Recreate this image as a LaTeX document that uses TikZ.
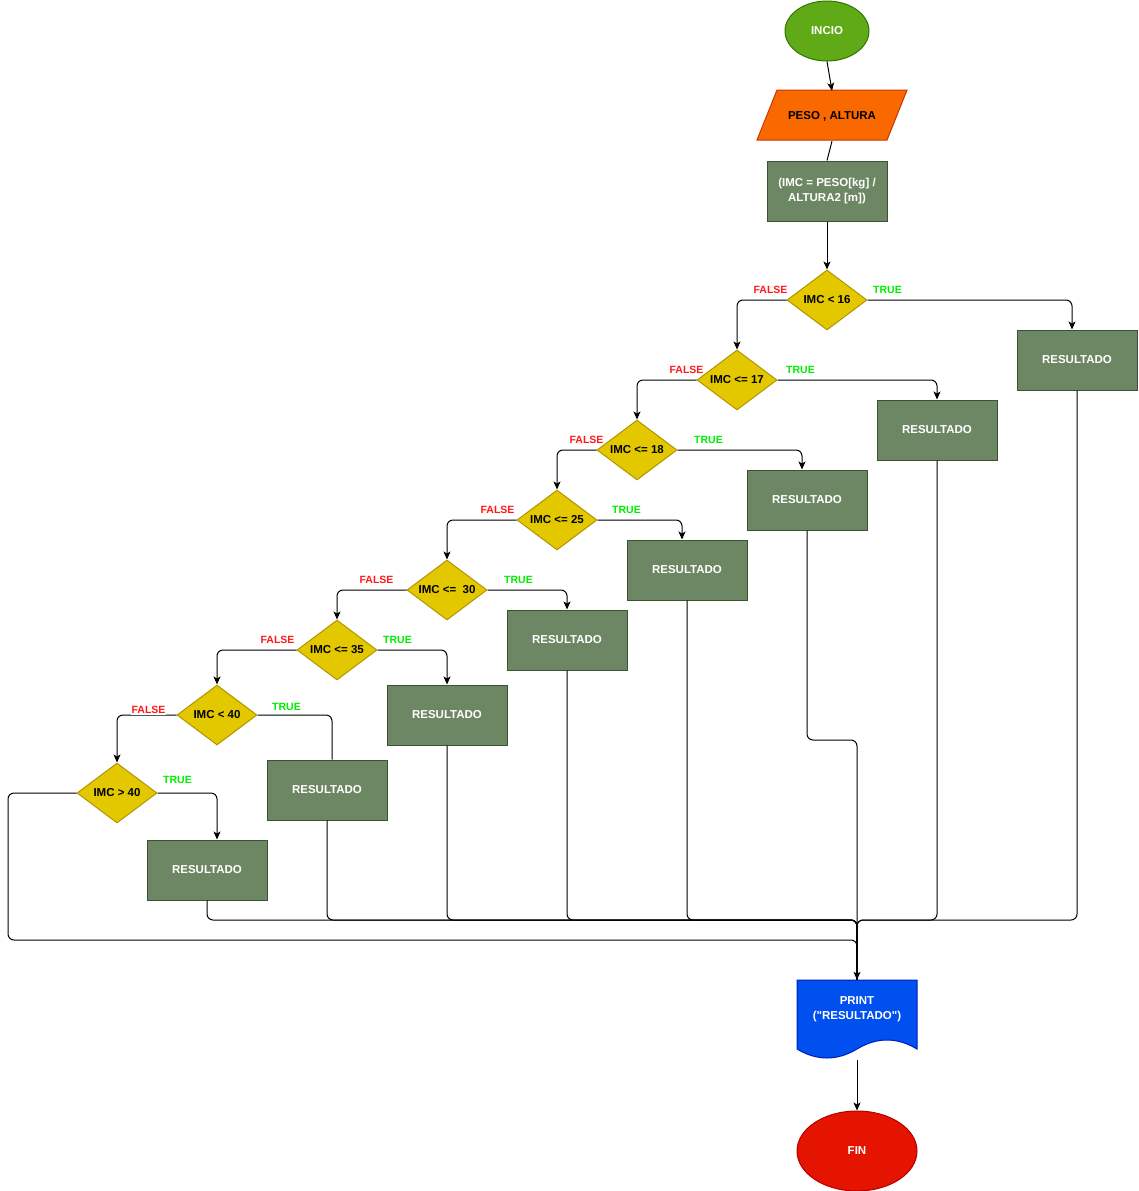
\documentclass[tikz,border=0pt]{standalone}
\usepackage{fontspec}
\setmainfont{Liberation Sans}[Ligatures=TeXOff]
\usetikzlibrary{shapes.geometric,arrows.meta,calc}
\definecolor{cgreen}{HTML}{60A917}\definecolor{cgreenD}{HTML}{2D7600}
\definecolor{corange}{HTML}{FA6800}\definecolor{corangeD}{HTML}{C73500}
\definecolor{crect}{HTML}{6D8764}\definecolor{crectD}{HTML}{3A5431}
\definecolor{cdia}{HTML}{E3C800}\definecolor{cdiaD}{HTML}{B09500}
\definecolor{cblue}{HTML}{0050EF}\definecolor{cblueD}{HTML}{001DBC}
\definecolor{cred}{HTML}{E51400}\definecolor{credD}{HTML}{B20000}
\definecolor{ltrue}{HTML}{00EE00}\definecolor{lfalse}{HTML}{FF1A1A}
\begin{document}
\begin{tikzpicture}[x=1pt,y=-1pt,
  mainfont/.style={font=\fontsize{11.5}{15}\selectfont\bfseries},
  resbox/.style={rectangle,draw=crectD,fill=crect,line width=1pt,minimum width=120pt,minimum height=60pt,inner sep=0pt,text=white,mainfont,align=center},
  dec/.style={diamond,draw=cdiaD,fill=cdia,line width=1pt,minimum width=80pt,minimum height=60pt,inner sep=0pt,aspect=1.333,mainfont},
  termnode/.style={ellipse,line width=1pt,inner sep=0pt,text=white,mainfont},
  lt/.style={font=\fontsize{10.5}{12}\selectfont\bfseries,text=ltrue,inner sep=0pt},
  lf/.style={font=\fontsize{10.5}{12}\selectfont\bfseries,text=lfalse,inner sep=0pt},
  conn/.style={line width=1pt,rounded corners=6pt},
  arr/.style={conn,-{Stealth[length=8pt,width=7pt,inset=2pt]}}]
\useasboundingbox (0,0) rectangle (1138,1191);

% start
\node[termnode,fill=cgreen,draw=cgreenD,minimum width=84pt,minimum height=60pt] (start) at (827,31) {INCIO};
% input
\draw[fill=corange,draw=corangeD,line width=1pt] (777,90) -- (907,90) -- (887,140) -- (757,140) -- cycle;
\node[mainfont,minimum height=50pt,inner sep=0pt] (pa) at (832,116) {PESO , ALTURA};
% process
\node[resbox] (calc) at (827,191) {(IMC = PESO[kg] /\\ALTURA2 [m])};

% decisions
\node[dec] (d1) at (827,300) {IMC < 16};
\node[dec] (d2) at (737,380) {IMC <= 17};
\node[dec] (d3) at (637,450) {IMC <= 18};
\node[dec] (d4) at (557,520) {IMC <= 25};
\node[dec] (d5) at (447,590) {IMC <=~ 30};
\node[dec] (d6) at (337,650) {IMC <= 35};
\node[dec] (d7) at (217,715) {IMC < 40};
\node[dec] (d8) at (117,793) {IMC > 40};

% results
\node[resbox] (r1) at (1077,360) {RESULTADO};
\node[resbox] (r2) at (937,430) {RESULTADO};
\node[resbox] (r3) at (807,500) {RESULTADO};
\node[resbox] (r4) at (687,570) {RESULTADO};
\node[resbox] (r5) at (567,640) {RESULTADO};
\node[resbox] (r6) at (447,715) {RESULTADO};
\node[resbox] (r7) at (327,790) {RESULTADO};
\node[resbox] (r8) at (207,870) {RESULTADO};

% print document
\draw[fill=cblue,draw=cblueD,line width=1pt] (797,980) -- (917,980) -- (917,1049)
  .. controls (897,1037) and (877,1037) .. (857,1049)
  .. controls (837,1061) and (817,1061) .. (797,1049) -- cycle;
\node[mainfont,text=white,align=center,minimum height=58pt,inner sep=0pt] (pr) at (857,1009) {PRINT\\("RESULTADO")};
\coordinate (prb) at (857,1060);
% end
\node[termnode,fill=cred,draw=credD,minimum width=120pt,minimum height=80pt] (fin) at (857,1151) {FIN};

% junctions
\coordinate (j1) at (857,920);
\coordinate (j2) at (857,740);
\coordinate (j3) at (857,940);
\coordinate (j4) at (8,940);

% main flow
\draw[arr] (start.south) -- (pa.north);
\draw[conn] (pa.south) -- (calc.north);
\draw[arr] (calc.south) -- (d1.north);

% true branches
\draw[arr] (d1.east) -| ([xshift=-5pt]r1.north);
\draw[arr] (d2.east) -| (r2.north);
\draw[arr] (d3.east) -| ([xshift=-5pt]r3.north);
\draw[arr] (d4.east) -| ([xshift=-5pt]r4.north);
\draw[arr] (d5.east) -| (r5.north);
\draw[arr] (d6.east) -| (r6.north);
\draw[conn] (d7.east) -| ([xshift=5pt]r7.north);
\draw[arr] (d8.east) -| ([xshift=10pt]r8.north);

% false branches
\draw[arr] (d1.west) -| (d2.north);
\draw[arr] (d2.west) -| (d3.north);
\draw[arr] (d3.west) -| (d4.north);
\draw[arr] (d4.west) -| (d5.north);
\draw[arr] (d5.west) -| (d6.north);
\draw[arr] (d6.west) -| (d7.north);
\draw[arr] (d7.west) -| (d8.north);
\draw[conn] (d8.west) -| (j4) -- (j3) -- (pr.north);

% merges
\draw[conn] (r1.south) |- (j1) -- (pr.north);
\draw[conn] (r2.south) |- (j1) -- (pr.north);
\draw[conn] (r3.south) |- (j2) -- (pr.north);
\draw[conn] (r4.south) |- (j1) -- (pr.north);
\draw[conn] (r5.south) |- (j1) -- (pr.north);
\draw[conn] (r6.south) |- (j1) -- (pr.north);
\draw[conn] (r7.south) |- (j1) -- (pr.north);
\draw[conn] (r8.south) |- (j1) -- (pr.north);
\draw[arr] (j3) -- (pr.north);

\draw[arr] (prb) -- (fin.north);

% labels
\node[lf] (lf1) at (770.5,290) {FALSE};
\node[lt] (lt1) at (887.5,290) {TRUE};
\node[lf] (lf2) at (686.5,370) {FALSE};
\node[lt] (lt2) at (800.5,370) {TRUE};
\node[lf] (lf3) at (586.5,440) {FALSE};
\node[lt] (lt3) at (708.5,440) {TRUE};
\node[lf] (lf4) at (497.5,510) {FALSE};
\node[lt] (lt4) at (626.5,510) {TRUE};
\node[lf] (lf5) at (376.5,580) {FALSE};
\node[lt] (lt5) at (518.5,580) {TRUE};
\node[lf] (lf6) at (277.5,640) {FALSE};
\node[lt] (lt6) at (397.5,640) {TRUE};
\node[lf,fill=white,inner sep=1pt] (lf7) at (148.5,710) {FALSE};
\node[lt] (lt7) at (286.5,707) {TRUE};
\node[lt] (lt8) at (177.5,780) {TRUE};
\end{tikzpicture}
\end{document}
